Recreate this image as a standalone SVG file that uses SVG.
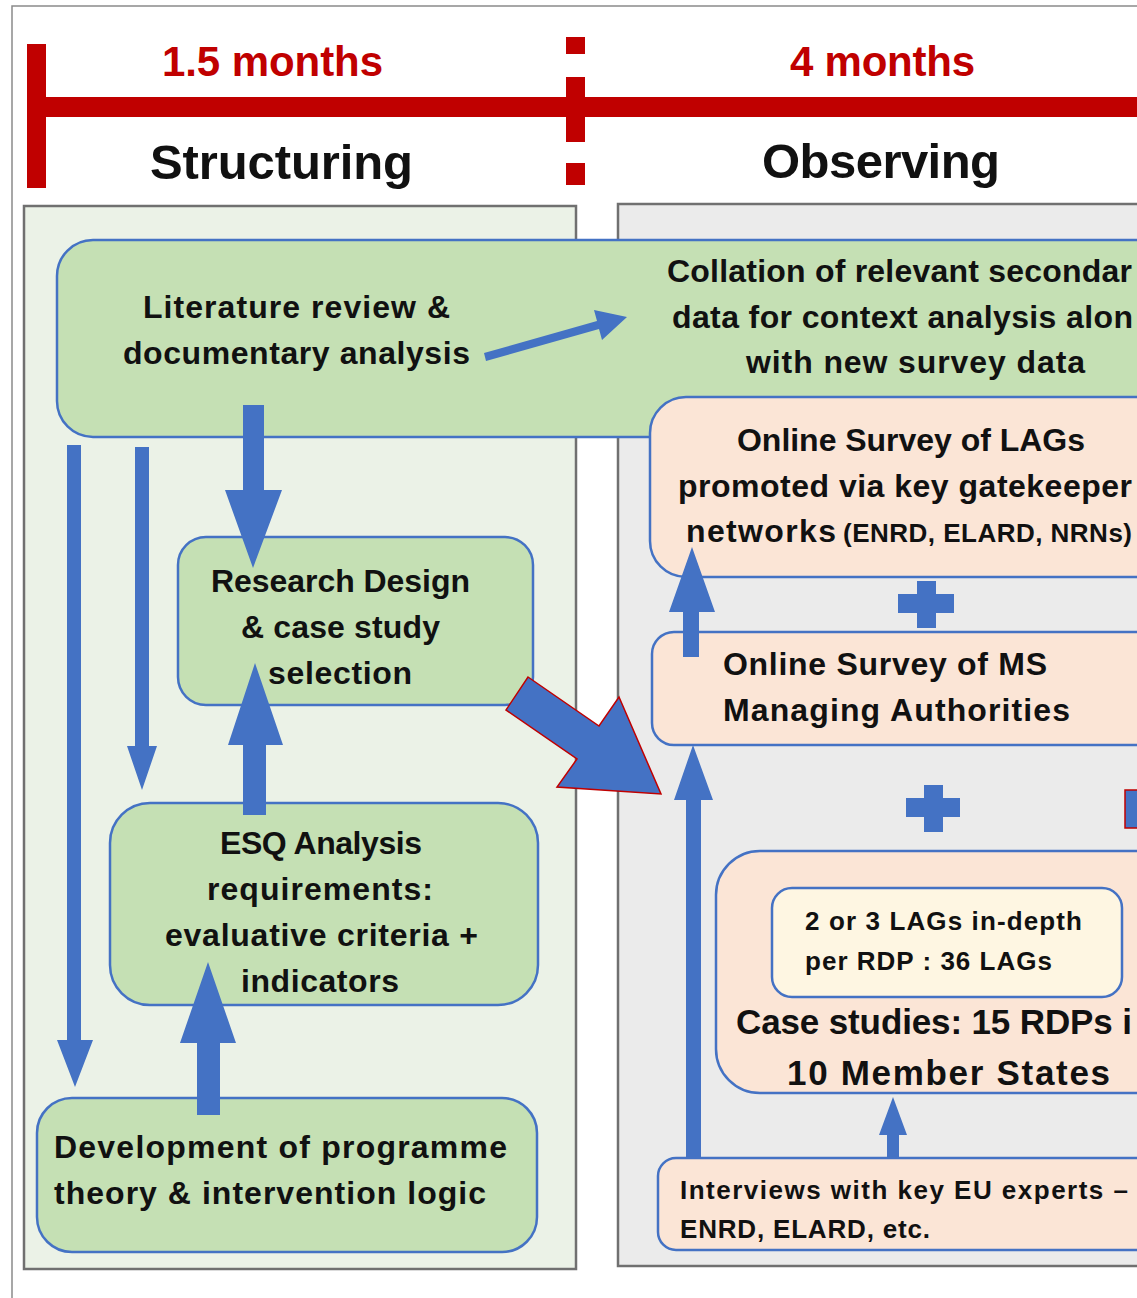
<svg xmlns="http://www.w3.org/2000/svg" width="1137" height="1298" viewBox="0 0 1137 1298">
<style>
text{font-family:"Liberation Sans",Arial,sans-serif;font-weight:bold;fill:#111}
.t32{font-size:32px}
.t26{font-size:26px}
.t35{font-size:35px}
.title{font-size:49px}
.dur{font-size:42px;fill:#C00000}
.red{fill:#C00000}
.panel{stroke:#707070;stroke-width:2.5}
.green{fill:#C5E0B4;stroke:#4472C4;stroke-width:2.5}
.orange{fill:#FBE5D6;stroke:#4472C4;stroke-width:2.5}
.yellow{fill:#FEF6E2;stroke:#4472C4;stroke-width:2.5}
.arrow{fill:#4472C4}
.redarrow{fill:#4472C4;stroke:#C00000;stroke-width:1.5}
</style>
<rect width="1137" height="1298" fill="#FFFFFF"/>
<!-- outer frame -->
<path d="M12,1298 V6 H1137" fill="none" stroke="#8a8a8a" stroke-width="1.5"/>

<!-- timeline -->
<g id="timeline">
<rect class="red" x="27" y="44" width="19" height="144"/>
<rect class="red" x="27" y="97" width="1110" height="20"/>
<rect class="red" x="566" y="37" width="19" height="17"/>
<rect class="red" x="566" y="77" width="19" height="65"/>
<rect class="red" x="566" y="163" width="19" height="22"/>
<text class="dur" x="162" y="76" textLength="221">1.5 months</text>
<text class="dur" x="790" y="76" textLength="185">4 months</text>
<text class="title" x="150" y="179" textLength="263">Structuring</text>
<text class="title" x="762" y="178" textLength="238">Observing</text>
</g>

<!-- phase panels -->
<g id="panel-structuring"><rect class="panel" x="24" y="206" width="552" height="1063" fill="#EBF2E7"/></g>
<g id="panel-observing"><rect class="panel" x="618" y="204" width="560" height="1062" fill="#EBEBEB"/></g>

<!-- nodes -->
<g id="node-literature">
<rect class="green" x="57" y="240" width="1130" height="197" rx="36"/>
<text class="t32" x="143" y="318" textLength="307">Literature review &amp;</text>
<text class="t32" x="123" y="364" textLength="347">documentary analysis</text>
</g>
<g id="node-collation">
<text class="t32" x="667" y="282" textLength="465">Collation of relevant secondar</text>
<text class="t32" x="672" y="328" textLength="461">data for context analysis alon</text>
<text class="t32" x="746" y="373" textLength="339">with new survey data</text>
</g>
<g id="node-survey-lags">
<rect class="orange" x="650" y="397" width="540" height="180" rx="36"/>
<text class="t32" x="737" y="451" textLength="348">Online Survey of LAGs</text>
<text class="t32" x="678" y="497" textLength="454">promoted via key gatekeeper</text>
<text class="t32" x="686" y="542" textLength="150">networks</text>
<text class="t26" x="843" y="542" textLength="289">(ENRD, ELARD, NRNs)</text>
</g>
<g id="node-survey-ms">
<rect class="orange" x="652" y="632" width="540" height="113" rx="22"/>
<text class="t32" x="723" y="675" textLength="324">Online Survey of MS</text>
<text class="t32" x="723" y="721" textLength="347">Managing Authorities</text>
</g>
<g id="node-case-studies">
<rect class="orange" x="716" y="851" width="480" height="242" rx="44"/>
<text class="t35" x="736" y="1034" textLength="396">Case studies: 15 RDPs i</text>
<text class="t35" x="787" y="1085" textLength="323">10 Member States</text>
</g>
<g id="node-lags-indepth">
<rect class="yellow" x="772" y="888" width="350" height="109" rx="20"/>
<text class="t26" x="805" y="930" textLength="277">2 or 3 LAGs in-depth</text>
<text class="t26" x="805" y="970" textLength="247">per RDP : 36 LAGs</text>
</g>
<g id="node-interviews">
<rect class="orange" x="658" y="1158" width="530" height="92" rx="18"/>
<text class="t26" x="680" y="1199" textLength="448">Interviews with key EU experts –</text>
<text class="t26" x="680" y="1238" textLength="250">ENRD, ELARD, etc.</text>
</g>
<g id="node-research-design">
<rect class="green" x="178" y="537" width="355" height="168" rx="28"/>
<text class="t32" x="211" y="592" textLength="259">Research Design</text>
<text class="t32" x="241" y="638" textLength="199">&amp; case study</text>
<text class="t32" x="268" y="684" textLength="144">selection</text>
</g>
<g id="node-esq">
<rect class="green" x="110" y="803" width="428" height="202" rx="40"/>
<text class="t32" x="220" y="854" textLength="202">ESQ Analysis</text>
<text class="t32" x="207" y="900" textLength="226">requirements:</text>
<text class="t32" x="165" y="946" textLength="313">evaluative criteria +</text>
<text class="t32" x="241" y="992" textLength="158">indicators</text>
</g>
<g id="node-development">
<rect class="green" x="37" y="1098" width="500" height="154" rx="35"/>
<text class="t32" x="54" y="1158" textLength="453">Development of programme</text>
<text class="t32" x="54" y="1204" textLength="432">theory &amp; intervention logic</text>
</g>

<!-- connectors -->
<g id="connectors">
<polygon class="arrow" points="484,353 597,321 594,310 627,317 602,340 599,329 486,361"/>
<polygon class="arrow" points="243,405 264,405 264,490 282,490 253,568 225,490 243,490"/>
<polygon class="arrow" points="67,445 81,445 81,1040 93,1040 75,1087 57,1040 67,1040"/>
<polygon class="arrow" points="135,447 149,447 149,746 157,746 142,790 127,746 135,746"/>
<polygon class="arrow" points="243,815 266,815 266,745 283,745 255,663 228,745 243,745"/>
<polygon class="arrow" points="197,1115 220,1115 220,1043 236,1043 208,962 180,1043 197,1043"/>
<polygon class="arrow" points="683,657 699,657 699,612 715,612 692,547 669,612 683,612"/>
<polygon class="arrow" points="686,1158 701,1158 701,800 713,800 693,745 674,800 686,800"/>
<polygon class="arrow" points="887,1158 899,1158 899,1135 907,1135 893,1097 879,1135 887,1135"/>
<polygon class="redarrow" points="528,677 599,726 619,697 661,794 557,787 577,759 506,710"/>
<path class="arrow" d="M898,594 H917 V581 H936 V594 H954 V613 H936 V628 H917 V613 H898 Z"/>
<path class="arrow" d="M906,798 H924 V785 H943 V798 H960 V817 H943 V832 H924 V817 H906 Z"/>
<rect class="redarrow" x="1125" y="790" width="30" height="38"/>
</g>
</svg>
